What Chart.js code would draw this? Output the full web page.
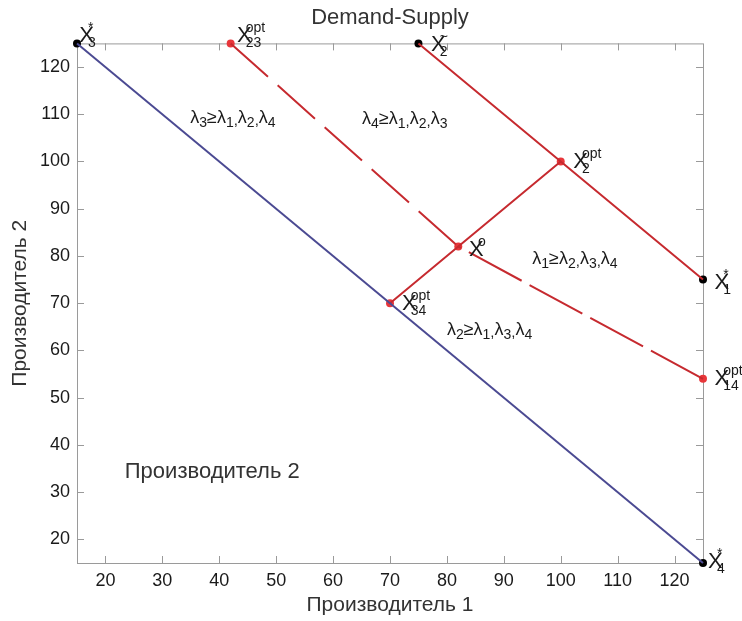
<!DOCTYPE html>
<html>
<head>
<meta charset="utf-8">
<script src="https://cdn.jsdelivr.net/npm/chart.js@4.4.0/dist/chart.umd.min.js"></script>
<style>
  html, body { margin: 0; padding: 0; background: #fff; }
  #wrap { width: 742px; height: 621px; }
</style>
</head>
<body>
<div id="wrap"><canvas id="chart"></canvas></div>
<script>
// axes
const xTicks = [20, 30, 40, 50, 60, 70, 80, 90, 100, 110, 120];
const yTicks = [20, 30, 40, 50, 60, 70, 80, 90, 100, 110, 120];

// blue line X3* -> X4*
const budgetX = [15, 125];
const budgetY = [125, 15];
// red solid X2~ -> X2opt -> X1*
const frontX = [75, 100, 125];
const frontY = [125, 100, 75];
// red solid X34opt -> X0 -> X2opt
const diagX = [70, 82, 100];
const diagY = [70, 82, 100];
// red dashed X23opt -> X0 and X0 -> X14opt
const dashAX = [42, 82];
const dashAY = [125, 82];
const dashBX = [82, 125];
const dashBY = [82, 54];
// markers
const blackX = [15, 75, 125, 125];
const blackY = [125, 125, 75, 15];
const redX = [42, 100, 82, 70, 125];
const redY = [125, 100, 82, 70, 54];

// point labels (text anchors in data units)
const labelX = [15.4, 43.1, 77.2, 102.2, 127.0, 127.0, 83.9, 72.1, 125.9];
const labelY = [126.5, 126.5, 124.6, 99.8, 74.2, 53.9, 81.2, 69.8, 15.2];
const labelSup = ['*', 'opt', '~', 'opt', '*', 'opt', 'o', 'opt', '*'];
const labelSub = ['3', '23', '2', '2', '1', '14', '', '34', '4'];

// region labels  λa ≥ λb, λc, λd
const regionX = [34.9, 65.1, 95.0, 80.0];
const regionY = [109.3, 109.1, 79.4, 64.4];
const regionLead = ['3', '4', '1', '2'];
const regionRest = [['1', '2', '4'], ['1', '2', '3'], ['2', '3', '4'], ['1', '3', '4']];

const noteText = 'Производитель 2';
const noteX = 23.4;
const noteY = 34.2;

const FONT = '"Liberation Sans", Arial, sans-serif';
const RED = '#c62a2f';
const BLUE = '#4b4a92';
const AXIS = '#9a9a9a';

function pts(xs, ys) {
  return xs.map((x, i) => ({ x: x, y: ys[i] }));
}

function lineSet(xs, ys, color, dash, offset) {
  return {
    data: pts(xs, ys),
    showLine: true,
    borderColor: color,
    borderWidth: 2,
    borderDash: dash || [],
    borderDashOffset: offset || 0,
    pointRadius: 0,
    clip: false
  };
}

function dotSet(xs, ys, color) {
  return {
    data: pts(xs, ys),
    showLine: false,
    pointRadius: 4,
    pointBackgroundColor: color,
    pointBorderWidth: 0,
    clip: false
  };
}

// box + inward ticks, like a matlab axes
const boxPlugin = {
  id: 'box',
  beforeDatasetsDraw(chart) {
    const { ctx, chartArea: a, scales: { x, y } } = chart;
    ctx.save();
    ctx.strokeStyle = AXIS;
    ctx.lineWidth = 1;
    ctx.strokeRect(a.left + 0.5, a.top + 0.5, a.right - a.left, a.bottom - a.top);
    ctx.beginPath();
    xTicks.forEach(v => {
      const px = Math.round(x.getPixelForValue(v)) + 0.5;
      ctx.moveTo(px, a.bottom); ctx.lineTo(px, a.bottom - 7);
      ctx.moveTo(px, a.top); ctx.lineTo(px, a.top + 7);
    });
    yTicks.forEach(v => {
      const py = Math.round(y.getPixelForValue(v)) + 0.5;
      ctx.moveTo(a.left, py); ctx.lineTo(a.left + 7, py);
      ctx.moveTo(a.right, py); ctx.lineTo(a.right - 7, py);
    });
    ctx.stroke();
    ctx.restore();
  }
};

function drawX(ctx, px, py, sup, sub) {
  ctx.font = '22px ' + FONT;
  ctx.textBaseline = 'middle';
  ctx.textAlign = 'left';
  ctx.fillText('X', px, py);
  const w = ctx.measureText('X').width;
  const sx = px + w * 0.6;
  ctx.font = '14px ' + FONT;
  if (sup) ctx.fillText(sup, sx, py - 8);
  if (sub) ctx.fillText(sub, sx, py + 7);
}

function drawLambda(ctx, px, py, lead, rest) {
  ctx.textBaseline = 'alphabetic';
  ctx.textAlign = 'left';
  let cx = px;
  const base = py + 5;
  const part = (t, size, dy) => {
    ctx.font = size + 'px ' + FONT;
    ctx.fillText(t, cx, base + dy);
    cx += ctx.measureText(t).width;
  };
  part('λ', 18, 0);
  part(lead, 14, 4);
  part('≥', 18, 0);
  rest.forEach((r, i) => {
    part('λ', 18, 0);
    part(r, 14, 4);
    if (i < rest.length - 1) part(',', 15, 2);
  });
}

const textPlugin = {
  id: 'texts',
  afterDatasetsDraw(chart) {
    const { ctx, scales: { x, y } } = chart;
    ctx.save();
    ctx.fillStyle = '#1a1a1a';
    labelX.forEach((lx, i) => {
      drawX(ctx, x.getPixelForValue(lx), y.getPixelForValue(labelY[i]), labelSup[i], labelSub[i]);
    });
    regionX.forEach((rx, i) => {
      drawLambda(ctx, x.getPixelForValue(rx), y.getPixelForValue(regionY[i]), regionLead[i], regionRest[i]);
    });
    ctx.font = '22px ' + FONT;
    ctx.fillStyle = '#333';
    ctx.textBaseline = 'middle';
    ctx.fillText(noteText, x.getPixelForValue(noteX), y.getPixelForValue(noteY));
    ctx.restore();
  }
};

new Chart(document.getElementById('chart'), {
  type: 'scatter',
  data: {
    datasets: [
      lineSet(budgetX, budgetY, BLUE),
      lineSet(frontX, frontY, RED),
      lineSet(diagX, diagY, RED),
      lineSet(dashAX, dashAY, RED, [50, 13], 0),
      lineSet(dashBX, dashBY, RED, [60, 9], 57),
      dotSet(blackX, blackY, '#000'),
      dotSet(redX, redY, '#e8363a')
    ]
  },
  options: {
    responsive: true,
    maintainAspectRatio: false,
    animation: false,
    layout: { padding: { left: 0, right: 39, top: 0, bottom: 0 } },
    plugins: {
      legend: { display: false },
      tooltip: { enabled: false },
      title: {
        display: true,
        text: 'Demand-Supply',
        fullSize: false,
        color: '#333',
        font: { family: FONT, size: 22, weight: 'normal' },
        padding: { top: 5, bottom: 12 }
      }
    },
    scales: {
      x: {
        type: 'linear',
        min: 15,
        max: 125,
        afterBuildTicks: s => { s.ticks = xTicks.map(v => ({ value: v })); },
        afterFit: s => { s.height = 58; },
        grid: { display: false, drawTicks: false },
        border: { display: false },
        ticks: { color: '#1a1a1a', padding: 7, font: { family: FONT, size: 18 } },
        title: {
          display: true,
          text: 'Производитель 1',
          color: '#333',
          font: { family: FONT, size: 21 },
          padding: { top: 0, bottom: 3 }
        }
      },
      y: {
        type: 'linear',
        min: 15,
        max: 125,
        afterBuildTicks: s => { s.ticks = yTicks.map(v => ({ value: v })); },
        afterFit: s => { s.width = 77; },
        grid: { display: false, drawTicks: false },
        border: { display: false },
        ticks: { color: '#1a1a1a', padding: 7, font: { family: FONT, size: 18 } },
        title: {
          display: true,
          text: 'Производитель 2',
          color: '#333',
          font: { family: FONT, size: 21 },
          padding: { top: 8, bottom: 0 }
        }
      }
    }
  },
  plugins: [boxPlugin, textPlugin]
});
</script>
</body>
</html>
